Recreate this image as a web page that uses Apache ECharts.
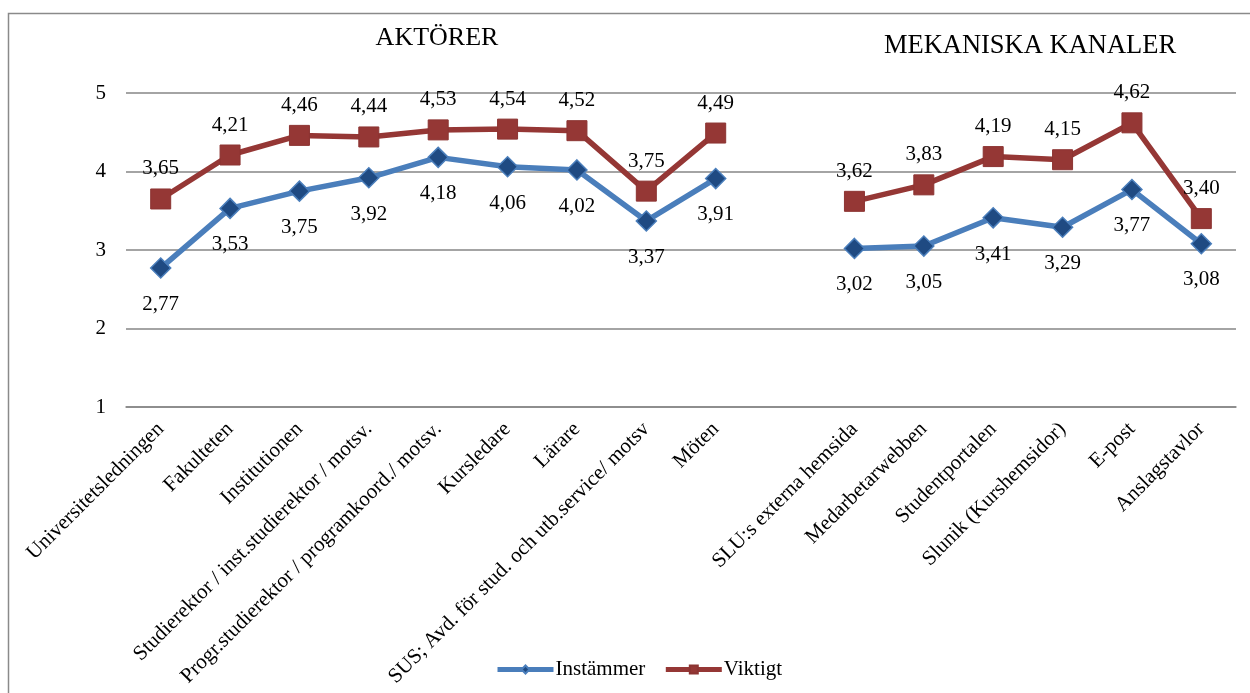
<!DOCTYPE html>
<html>
<head>
<meta charset="utf-8">
<script src="https://cdn.jsdelivr.net/npm/echarts@6/dist/echarts.min.js"></script>
<style>
  html, body { margin: 0; padding: 0; background: #fff; }
  #chart { width: 1250px; height: 693px; }
</style>
</head>
<body>
<div id="chart"></div>
<script>
// Categories: nine actors, one empty slot as a separator, six mechanical channels
const categories = [
  'Universitetsledningen', 'Fakulteten', 'Institutionen',
  'Studierektor / inst.studierektor / motsv.',
  'Progr.studierektor / programkoord./ motsv.',
  'Kursledare', 'Lärare', 'SUS; Avd. för stud. och utb.service/ motsv', 'Möten',
  '',
  'SLU:s externa hemsida', 'Medarbetarwebben', 'Studentportalen',
  'Slunik (Kurshemsidor)', 'E-post', 'Anslagstavlor'
];

const instammer = [2.77, 3.53, 3.75, 3.92, 4.18, 4.06, 4.02, 3.37, 3.91, '-', 3.02, 3.05, 3.41, 3.29, 3.77, 3.08];
const viktigt   = [3.65, 4.21, 4.46, 4.44, 4.53, 4.54, 4.52, 3.75, 4.49, '-', 3.62, 3.83, 4.19, 4.15, 4.62, 3.40];

const yTicks = [1, 2, 3, 4, 5];
const groupTitles = ['AKTÖRER', 'MEKANISKA KANALER'];

const FONT = "'Liberation Serif', 'Times New Roman', serif";
const fmt = p => Number(p.value).toFixed(2).replace('.', ',');

const chart = echarts.init(document.getElementById('chart'), null, { renderer: 'canvas' });

chart.setOption({
  animation: false,
  backgroundColor: '#ffffff',
  graphic: [{
    type: 'rect',
    shape: { x: 8.5, y: 13.5, width: 1400, height: 900 },
    style: { fill: 'none', stroke: '#8a8a8a', lineWidth: 1.5 },
    silent: true
  }],
  title: [
    { text: groupTitles[0], left: 432, top: 20, textAlign: 'center',
      textStyle: { fontFamily: FONT, fontSize: 26, fontWeight: 'normal', color: '#000' } },
    { text: groupTitles[1], left: 1025, top: 28, textAlign: 'center',
      textStyle: { fontFamily: FONT, fontSize: 26.5, fontWeight: 'normal', color: '#000' } }
  ],
  legend: {
    top: 654,
    left: 490,
    itemWidth: 56,
    itemHeight: 10,
    itemGap: 18,
    lineStyle: { width: 5 },
    textStyle: { fontFamily: FONT, fontSize: 21, color: '#000', padding: [0, 0, 0, -3] },
    data: ['Instämmer', 'Viktigt']
  },
  grid: { left: 126, right: 14, top: 93, bottom: 286, containLabel: false },
  xAxis: {
    type: 'category',
    data: categories,
    boundaryGap: true,
    axisLine: { lineStyle: { color: '#868686', width: 1.5 } },
    axisTick: { show: false },
    axisLabel: {
      interval: 0,
      rotate: 45,
      margin: 19,
      fontFamily: FONT,
      fontSize: 21,
      color: '#000'
    }
  },
  yAxis: {
    type: 'value',
    min: yTicks[0],
    max: yTicks[yTicks.length - 1],
    interval: 1,
    axisLine: { show: false },
    axisTick: { show: false },
    splitLine: { lineStyle: { color: '#868686', width: 1.5 } },
    axisLabel: { margin: 20, fontFamily: FONT, fontSize: 21, color: '#000' }
  },
  series: [
    {
      name: 'Instämmer',
      type: 'line',
      data: instammer,
      connectNulls: false,
      symbol: 'diamond',
      symbolSize: 20,
      lineStyle: { color: '#4A7EBB', width: 5.5 },
      itemStyle: { color: '#1F4A82', borderColor: '#4A7EBB', borderWidth: 1.5 },
      label: {
        show: true, position: 'bottom', distance: 15,
        formatter: fmt, fontFamily: FONT, fontSize: 21, color: '#000'
      }
    },
    {
      name: 'Viktigt',
      type: 'line',
      data: viktigt,
      connectNulls: false,
      symbol: 'rect',
      symbolSize: 20,
      lineStyle: { color: '#953735', width: 5.5 },
      itemStyle: { color: '#953735', borderColor: '#8C3432', borderWidth: 1 },
      label: {
        show: true, position: 'top', distance: 9,
        formatter: fmt, fontFamily: FONT, fontSize: 21, color: '#000'
      }
    }
  ]
});
</script>
</body>
</html>
